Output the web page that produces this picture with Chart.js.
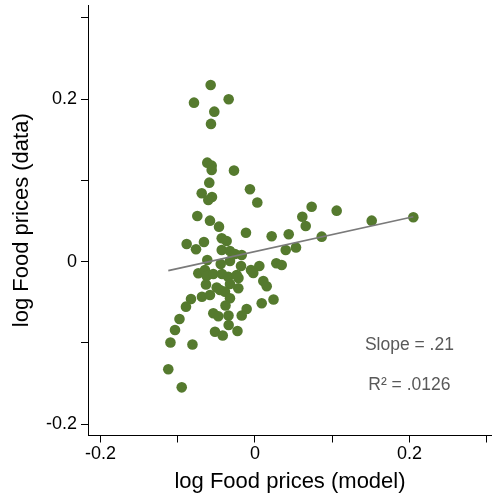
<!DOCTYPE html>
<html>
<head>
<meta charset="utf-8">
<script src="https://cdn.jsdelivr.net/npm/chart.js@4.4.1/dist/chart.umd.min.js"></script>
<style>
html,body{margin:0;padding:0;background:#fff;}
#wrap{width:492px;height:497px;}
</style>
</head>
<body>
<div id="wrap"><canvas id="c" width="492" height="497"></canvas></div>
<script>
// x values: log Food prices (model)
const modelX = [
 -0.0574,-0.0790,-0.0341,-0.0527,-0.0570,-0.0618,-0.0561,-0.0561,-0.0272,-0.0592,
 -0.0065,-0.0690,-0.0557,-0.0605,0.0030,-0.0747,-0.0583,-0.0466,-0.0117,0.0216,
 0.0437,0.0864,0.0734,0.1058,0.0613,0.0657,0.1512,0.2051,-0.0885,-0.0661,
 -0.0431,-0.0367,0.0398,0.0531,-0.0764,-0.0431,-0.0324,-0.0259,-0.0172,-0.0618,
 -0.0324,-0.0444,-0.0181,0.0056,0.0276,0.0346,-0.0052,-0.0022,-0.0734,-0.0648,
 -0.0626,-0.0540,-0.0427,-0.0346,-0.0237,-0.0214,0.0108,0.0152,-0.0635,-0.0496,
 -0.0453,-0.0324,-0.0216,-0.0389,-0.0829,-0.0687,-0.0583,0.0087,0.0240,-0.0324,
 -0.0894,-0.0382,-0.0108,-0.0172,-0.0540,-0.0475,-0.0343,-0.0978,-0.1036,-0.0518,
 -0.0418,-0.0341,-0.0227,-0.1095,-0.0810,-0.1123,-0.0949
];
// y values: log Food prices (data)
const dataY = [
 0.2176,0.1958,0.2000,0.1847,0.1696,0.1219,0.1182,0.1129,0.1121,0.0973,
 0.0892,0.0842,0.0797,0.0760,0.0729,0.0563,0.0505,0.0431,0.0357,0.0313,
 0.0337,0.0308,0.0677,0.0628,0.0554,0.0440,0.0505,0.0547,0.0218,0.0243,
 0.0288,0.0255,0.0144,0.0175,0.0153,0.0144,0.0132,0.0095,0.0083,0.0021,
 0.0009,-0.0028,-0.0053,-0.0053,-0.0020,-0.0041,-0.0102,-0.0139,-0.0143,-0.0102,
 -0.0176,-0.0151,-0.0151,-0.0185,-0.0164,-0.0201,-0.0238,-0.0303,-0.0281,-0.0318,
 -0.0349,-0.0275,-0.0328,-0.0369,-0.0459,-0.0431,-0.0410,-0.0512,-0.0466,-0.0451,
 -0.0554,-0.0539,-0.0583,-0.0663,-0.0635,-0.0672,-0.0663,-0.0706,-0.0841,-0.0862,
 -0.0909,-0.0780,-0.0853,-0.0995,-0.1020,-0.1325,-0.1547
];
// fitted line endpoints
const fitX = [-0.1123, 0.2051];
const fitY = [-0.0110, 0.0554];
// tick values and labels
const xTicks = [-0.2,-0.1,0,0.1,0.2,0.3];
const yTicks = [-0.2,-0.1,0,0.1,0.2,0.3];
const labeledTicks = {"-0.2":"-0.2","0":"0","0.2":"0.2"};
const xRange = [-0.2163, 0.307];
const yRange = [-0.214, 0.316];
// annotation texts
const noteTexts = ["Slope = .21", "R\u00b2 = .0126"];
const noteX = [0.2, 0.2];
const noteY = [-0.1026, -0.1518];

const points = modelX.map((x,i)=>({x:x,y:dataY[i]}));
const fitLine = fitX.map((x,i)=>({x:x,y:fitY[i]}));

const FONT = "'Liberation Sans', Arial, Helvetica, sans-serif";

function lbl(v){
  const k = String(Math.round(v*10)/10);
  return labeledTicks[k] !== undefined ? labeledTicks[k] : '';
}

const notesPlugin = {
  id:'notes',
  afterDatasetsDraw(chart){
    const ctx = chart.ctx, xs = chart.scales.x, ys = chart.scales.y;
    ctx.save();
    ctx.font = "17.5px " + FONT;
    ctx.fillStyle = '#595959';
    ctx.textAlign = 'center';
    ctx.textBaseline = 'middle';
    noteTexts.forEach((t,i)=>{
      ctx.fillText(t, xs.getPixelForValue(noteX[i]), ys.getPixelForValue(noteY[i]));
    });
    ctx.restore();
  }
};

new Chart(document.getElementById('c'), {
  type:'scatter',
  data:{
    datasets:[
      {type:'line', data:fitLine, borderColor:'#7a7a7a', borderWidth:1.6, pointRadius:0, fill:false, order:0},
      {type:'scatter', data:points, backgroundColor:'#557a2e', borderColor:'#557a2e', borderWidth:0, pointRadius:5.3, order:1}
    ]
  },
  options:{
    responsive:false,
    animation:false,
    devicePixelRatio:1,
    layout:{autoPadding:false, padding:{top:5,right:0,bottom:0,left:0}},
    plugins:{legend:{display:false}, tooltip:{enabled:false}},
    scales:{
      x:{
        type:'linear', min:xRange[0], max:xRange[1],
        afterBuildTicks(s){ s.ticks = xTicks.map(v=>({value:v})); },
        afterFit(s){ s.height = 61.5; s.paddingLeft = 0; s.paddingRight = 0; },
        grid:{drawOnChartArea:false, drawTicks:true, tickLength:7, tickColor:'#000', tickWidth:1},
        border:{display:true, color:'#000', width:1},
        ticks:{color:'#000', padding:1, maxRotation:0, autoSkip:false, font:{family:FONT, size:18}, callback:(v)=>lbl(v)},
        title:{display:true, text:'log Food prices (model)', color:'#000', font:{family:FONT, size:22}, padding:{top:0,bottom:2}}
      },
      y:{
        type:'linear', min:yRange[0], max:yRange[1],
        afterBuildTicks(s){ s.ticks = yTicks.map(v=>({value:v})); },
        afterFit(s){ s.width = 88; s.paddingTop = 0; s.paddingBottom = 0; },
        grid:{drawOnChartArea:false, drawTicks:true, tickLength:7, tickColor:'#000', tickWidth:1},
        border:{display:true, color:'#000', width:1},
        ticks:{color:'#000', padding:4, autoSkip:false, font:{family:FONT, size:18}, callback:(v)=>lbl(v)},
        title:{display:true, text:'log Food prices (data)', color:'#000', font:{family:FONT, size:22}, padding:{top:9,bottom:0}}
      }
    }
  },
  plugins:[notesPlugin]
});
</script>
</body>
</html>
